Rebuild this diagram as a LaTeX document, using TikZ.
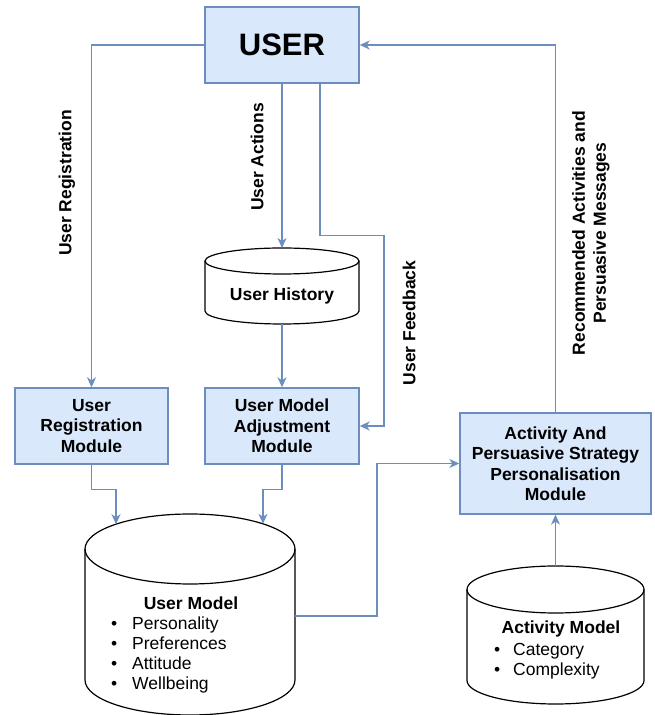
\documentclass[tikz,border=0pt]{standalone}
\usepackage{fontspec}
\setmainfont{Liberation Sans}
\usetikzlibrary{arrows.meta,calc}
\definecolor{bfill}{HTML}{DAE8FC}
\definecolor{bline}{HTML}{6C8EBF}
\newcommand{\mycyl}[6]{% name, cx, cy, w, h, ry
  \node[draw=none, minimum width=#4pt, minimum height=#5pt, inner sep=0pt, outer sep=0pt] (#1) at (#2,#3) {};
  \path[draw=black, fill=white, line width=1.2pt]
    ($(#1.north west)+(0,-#6)$) -- ($(#1.south west)+(0,#6)$)
    arc[start angle=180, end angle=360, x radius={#4pt/2}, y radius=#6pt]
    -- ($(#1.north east)+(0,-#6)$)
    arc[start angle=0, end angle=180, x radius={#4pt/2}, y radius=#6pt] -- cycle;
  \draw[line width=1.2pt] ($(#1.north west)+(0,-#6)$)
    arc[start angle=180, end angle=360, x radius={#4pt/2}, y radius=#6pt];
}
\begin{document}
\begin{tikzpicture}[x=1pt,y=1pt,
  mbox/.style={draw=bline, fill=bfill, line width=1.4pt, align=center,
    font=\fontsize{17.5}{20.5}\selectfont\bfseries, inner sep=0pt},
  conn/.style={draw=bline, line width=1.3pt, -{Stealth[length=10pt,width=9pt,inset=3pt]}},
  lab/.style={font=\fontsize{17.5}{21}\selectfont\bfseries, rotate=90, align=center, inner sep=0pt},
  ttl/.style={font=\fontsize{17.5}{20.5}\selectfont\bfseries, inner sep=0pt},
  itm/.style={font=\fontsize{17.5}{20}\selectfont, anchor=west, inner sep=0pt, text height=12.5pt, text depth=3.5pt}]
\useasboundingbox (0,0) rectangle (655,715);

% boxes
\node[mbox, minimum width=154pt, minimum height=76pt, font=\fontsize{31}{36}\selectfont\bfseries] (user) at (282,670) {USER};
\node[mbox, minimum width=153pt, minimum height=76pt] (reg) at (91.5,289) {User\\Registration\\Module};
\node[mbox, minimum width=154pt, minimum height=76pt] (adj) at (282,289) {User Model\\Adjustment\\Module};
\node[mbox, minimum width=191pt, minimum height=101pt] (act) at (555.5,251.5) {Activity And\\Persuasive Strategy\\Personalisation\\Module};

% cylinders
\mycyl{hist}{282}{429}{154}{76}{13}
\node[ttl] (histt) at (282,419) {User History};

\mycyl{um}{190}{100.5}{210}{201}{35}
\node[ttl] (umt) at (191,112) {User Model};
\node[itm] (um1) at (111,90) {\makebox[21pt][l]{\textbullet}Personality};
\node[itm] (um2) at (111,70) {\makebox[21pt][l]{\textbullet}Preferences};
\node[itm] (um3) at (111,50) {\makebox[21pt][l]{\textbullet}Attitude};
\node[itm] (um4) at (111,30) {\makebox[21pt][l]{\textbullet}Wellbeing};

\mycyl{am}{555.5}{80}{177}{138}{23.5}
\node[ttl] (amt) at (561,86) {Activity Model};
\node[itm] (am1) at (494,64) {\makebox[19pt][l]{\textbullet}Category};
\node[itm] (am2) at (494,44) {\makebox[19pt][l]{\textbullet}Complexity};

% labels
\node[lab] (lreg) at (67,532) {User Registration};
\node[lab] (lact) at (257,558) {User Actions};
\node[lab] (lfb) at (409,392) {User Feedback};
\node[lab] (lrec) at (591,482) {Recommended Activities and\\Persuasive Messages};

% helper coordinates
\coordinate (fbk) at (384,479.7);
\coordinate (umA) at (116,190.8);
\coordinate (umB) at (263,191.2);

% connectors
\draw[conn] (user.west) -| (reg.north);
\draw[conn] (user.south) -- (hist.north);
\draw[conn] (hist.south) -- (adj.north);
\draw[conn] ([xshift=38pt]user.south) |- (fbk) |- (adj.east);
\draw[conn] (reg.south) -- ++(0,-25) -| (umA);
\draw[conn] (adj.south) -- ++(0,-25) -| (umB);
\draw[conn] ([yshift=-1.5pt]um.east) -- ++(82,0) |- (act.west);
\draw[conn] (am.north) -- (am.north |- act.south);
\draw[conn] (act.north) |- (user.east);
\end{tikzpicture}
\end{document}
